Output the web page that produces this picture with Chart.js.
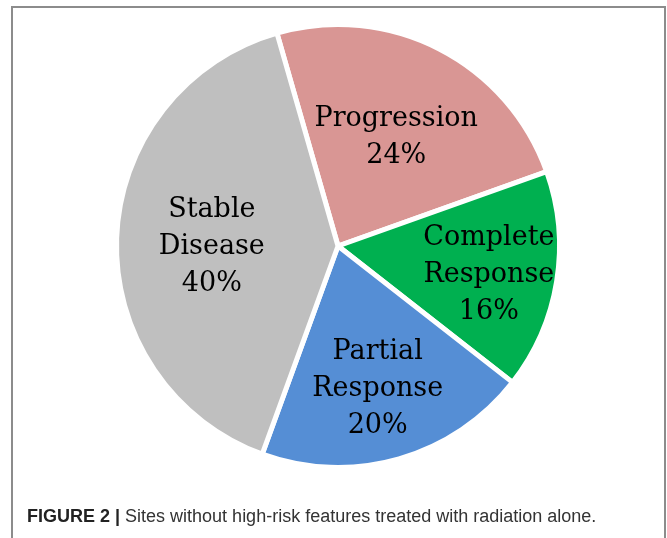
<!DOCTYPE html>
<html>
<head>
<meta charset="utf-8">
<script src="https://cdn.jsdelivr.net/npm/chart.js@4.4.1/dist/chart.umd.min.js"></script>
<style>
  body { margin: 0; background: #fff; }
  #frame {
    position: absolute; left: 11px; top: 6px; width: 651px; height: 540px;
    border: 2px solid #8c8c8c; border-bottom: none;
  }
  #wrap { position: absolute; left: 0; top: 0; width: 667px; height: 538px; }
  #caption {
    position: absolute; left: 27px; top: 506px;
    font-family: "Liberation Sans", Arial, sans-serif; font-size: 18px; color: #333;
    white-space: nowrap;
  }
  #caption b { color: #222; }
</style>
</head>
<body>
<div id="frame"></div>
<div id="wrap"><canvas id="myChart" width="667" height="538"></canvas></div>
<div id="caption"><b>FIGURE 2 |</b> Sites without high-risk features treated with radiation alone.</div>
<script>
// slice data, clockwise starting just left of 12 o'clock
const categories = ['Progression', 'Complete Response', 'Partial Response', 'Stable Disease'];
const labelLines = [['Progression'], ['Complete', 'Response'], ['Partial', 'Response'], ['Stable', 'Disease']];
const percents = [24, 16, 20, 40];
const sliceColors = ['#D99694', '#00B050', '#558ED5', '#BFBFBF'];

// how far out (fraction of radius) each label sits
const labelRadius = [0.575, 0.69, 0.65, 0.57];

const sliceLabels = {
  id: 'sliceLabels',
  afterDatasetsDraw(chart) {
    const ctx = chart.ctx;
    const meta = chart.getDatasetMeta(0);
    ctx.save();
    ctx.font = '27px "DejaVu Serif", serif';
    ctx.fillStyle = '#000';
    ctx.textAlign = 'center';
    ctx.textBaseline = 'middle';
    meta.data.forEach((arc, i) => {
      const mid = (arc.startAngle + arc.endAngle) / 2;
      const r = arc.outerRadius * labelRadius[i];
      const x = arc.x + Math.cos(mid) * r;
      const y = arc.y + Math.sin(mid) * r + 5;
      const lines = labelLines[i].concat([percents[i] + '%']);
      const lh = 37;
      lines.forEach((t, k) => {
        ctx.fillText(t, x, y + (k - (lines.length - 1) / 2) * lh);
      });
    });
    ctx.restore();
  }
};

const ctx = document.getElementById('myChart');
new Chart(ctx, {
  type: 'pie',
  data: {
    labels: categories,
    datasets: [{
      data: percents,
      backgroundColor: sliceColors,
      borderColor: '#fff',
      borderWidth: 5
    }]
  },
  options: {
    responsive: false,
    animation: false,
    rotation: -16,
    layout: { padding: { top: 22, bottom: 68, left: 10, right: 1 } },
    plugins: {
      legend: { display: false },
      tooltip: { enabled: false }
    }
  },
  plugins: [sliceLabels]
});
</script>
</body>
</html>
